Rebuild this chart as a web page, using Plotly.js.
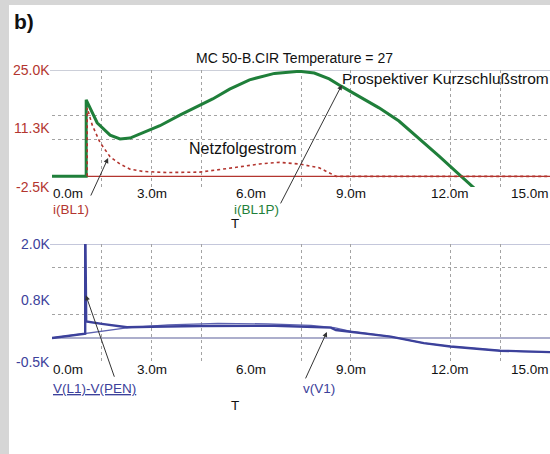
<!DOCTYPE html>
<html>
<head>
<meta charset="utf-8">
<script src="https://cdn.plot.ly/plotly-3.0.1.min.js"></script>
<style>
html,body{margin:0;padding:0;background:#d6d6d6;width:550px;height:454px;overflow:hidden;}
#chart{position:absolute;left:9px;top:5px;width:541px;height:449px;background:#fff;}
</style>
</head>
<body>
<div id="chart"></div>
<script>
// ---- data (time in ms, currents/voltages in kA/kV) ----
var tGreen = [0, 1.03, 1.03, 1.36, 1.75, 2.05, 2.35, 2.74, 3.25, 3.85, 4.45, 4.84, 5.35, 5.95, 6.70, 7.45, 7.90, 8.35, 8.71, 9.25, 9.85, 10.45, 11.05, 11.65, 12.31, 12.75];
var iBL1P  = [0, 0, 18.0, 12.6, 9.7, 8.8, 9.0, 10.2, 11.9, 14.4, 16.8, 18.2, 20.5, 22.7, 24.2, 24.7, 24.3, 22.9, 21.2, 18.7, 16.1, 13.0, 9.0, 4.8, 0.1, -3.0];

var tRed  = [1.06, 1.06, 1.21, 1.45, 1.75, 2.05, 2.35, 2.74, 3.46, 4.45, 5.44, 6.25, 6.85, 7.45, 8.05, 8.56, 15];
var iBL1  = [0, 16.1, 12.1, 7.9, 4.6, 2.9, 1.7, 1.15, 0.9, 1.0, 2.0, 2.9, 3.3, 2.9, 2.0, 0, 0];

var tV1 = [0, 1.0, 2.3, 3.5, 5.0, 6.5, 7.8, 8.5, 9.0, 10.2, 11.2, 12.0, 13.5, 14.2, 15];
var vV1 = [0, 0.09, 0.22, 0.28, 0.31, 0.30, 0.27, 0.22, 0.14, 0.03, -0.11, -0.18, -0.27, -0.29, -0.30];

var tVL = [0, 1.0, 1.0, 1.03, 1.5, 2.26, 3.0, 4.45, 6.7, 7.9, 8.4, 8.55, 9.0, 10.2, 11.2, 12.0, 13.5, 14.2, 15];
var vVL = [0, 0.09, 2.6, 0.35, 0.30, 0.23, 0.24, 0.255, 0.26, 0.24, 0.22, 0.17, 0.135, 0.03, -0.11, -0.18, -0.27, -0.29, -0.30];

var xTickVals = [0, 3, 6, 9, 12, 15];
var xTickText = ['0.0m', '3.0m', '6.0m', '9.0m', '12.0m', '15.0m'];
var y1TickVals = [25, 11.3, -2.5];
var y1TickText = ['25.0K', '11.3K', '-2.5K'];
var y2TickVals = [2.0, 0.8, -0.5];
var y2TickText = ['2.0K', '0.8K', '-0.5K'];
var xGrid = [1.5, 3, 4.5, 7.5, 9, 12, 13.5];
var y1Grid = [14.2, 8.55];
var y2Grid = [1.5, 0.5];

// ---- styling ----
var FONT = 'Liberation Sans, Arial, sans-serif';
var RED = '#b3352f', GREEN = '#1f7f3a', BLUE = '#3c419b', GRID = '#a3a3a3';
var W = 541, H = 449, PL = 52, PW = 498;
var FS = 13.5;
function px(x){ return (x - PL) / PW; }
function py(y){ return (454 - y) / H; }

var traces = [
  {x: tGreen, y: iBL1P, xaxis: 'x', yaxis: 'y', mode: 'lines', line: {color: GREEN, width: 3}, name: 'i(BL1P)'},
  {x: tRed, y: iBL1, xaxis: 'x', yaxis: 'y', mode: 'lines', line: {color: RED, width: 1.6, dash: 'dot'}, name: 'i(BL1)'},
  {x: tV1, y: vV1, xaxis: 'x2', yaxis: 'y2', mode: 'lines', line: {color: '#5d62b0', width: 1.3}, name: 'v(V1)'},
  {x: tVL, y: vVL, xaxis: 'x2', yaxis: 'y2', mode: 'lines', line: {color: BLUE, width: 2.4}, name: 'V(L1)-V(PEN)'}
];

function xax(anchor){
  return {range: [0, 15], domain: [0, 1], anchor: anchor, tickvals: xGrid, showticklabels: false,
    ticks: '', showgrid: true, gridcolor: GRID, griddash: 'dot', gridwidth: 1, zeroline: false, showline: false, fixedrange: true};
}
function yax(range, dom, grid){
  return {range: range, domain: dom, tickvals: grid, showticklabels: false, ticks: '', showgrid: true,
    gridcolor: GRID, griddash: 'dot', gridwidth: 1, zeroline: false, showline: false, fixedrange: true};
}

var ann = [];
function txt(t, x, y, opts){
  var a = {text: t, x: px(x), y: py(y), xref: 'paper', yref: 'paper', showarrow: false, borderpad: 0,
    xanchor: 'left', yanchor: 'middle', font: {family: FONT, size: FS, color: '#111'}};
  for (var k in opts) a[k] = opts[k];
  ann.push(a);
}
// x tick labels (built from arrays)
['x', 'x2'].forEach(function(xr, k){
  var yPix = k === 0 ? 194 : 369;
  xTickVals.forEach(function(v, i){
    ann.push({text: xTickText[i], x: v, xref: xr, y: py(yPix), yref: 'paper', showarrow: false, borderpad: 0,
      xanchor: i === 0 ? 'left' : (i === xTickVals.length - 1 ? 'right' : 'center'), yanchor: 'middle',
      font: {family: FONT, size: FS, color: '#111'}});
  });
});
y1TickVals.forEach(function(v, i){
  ann.push({text: y1TickText[i], x: 0, xref: 'paper', xanchor: 'right', xshift: -1, y: v, yref: 'y',
    yanchor: 'middle', showarrow: false, borderpad: 0, font: {family: FONT, size: 14, color: RED}});
});
y2TickVals.forEach(function(v, i){
  ann.push({text: y2TickText[i], x: 0, xref: 'paper', xanchor: 'right', xshift: -1, y: v, yref: 'y2',
    yanchor: 'middle', showarrow: false, borderpad: 0, font: {family: FONT, size: 14, color: BLUE}});
});

txt('<b>b)</b>', 13, 22, {font: {family: FONT, size: 21, color: '#111'}});
txt('MC 50-B.CIR Temperature = 27', 195, 58, {font: {family: FONT, size: 14, color: '#111'}});
txt('Prospektiver Kurzschlußstrom', 341, 78, {font: {family: FONT, size: 15.5, color: '#111'}});
txt('Netzfolgestrom', 188, 148, {font: {family: FONT, size: 16, color: '#111'}});
txt('i(BL1)', 52, 209, {font: {family: FONT, size: FS, color: RED}});
txt('i(BL1P)', 233, 209, {font: {family: FONT, size: FS, color: GREEN}});
txt('T', 235, 223, {xanchor: 'center'});
txt('<u>V(L1)-V(PEN)</u>', 52, 388, {font: {family: FONT, size: 13.5, color: BLUE}});
txt('v(V1)', 302, 388, {font: {family: FONT, size: 13.5, color: BLUE}});
txt('T', 235, 405, {xanchor: 'center'});

// arrows
function arrow(x, y, xr, yr, dx, dy){
  ann.push({text: '', x: x, y: y, xref: xr, yref: yr, ax: dx, ay: dy, showarrow: true,
    arrowhead: 2, arrowsize: 1, arrowwidth: 1, arrowcolor: '#333'});
}
arrow(1.69, 4.3, 'x', 'y', -18, 39);
arrow(8.73, 21.5, 'x', 'y', -62, 120);
arrow(1.02, 0.91, 'x2', 'y2', 29, 83);
arrow(8.28, 0.13, 'x2', 'y2', -22, 48);

var shapes = [
  {type: 'line', xref: 'paper', yref: 'y', x0: -0.004, x1: 1, y0: 25, y1: 25, line: {color: '#9aa0b4', width: 1}},
  {type: 'line', xref: 'paper', yref: 'y', x0: 0, x1: 1, y0: 0, y1: 0, line: {color: RED, width: 1.3}},
  {type: 'line', xref: 'paper', yref: 'y2', x0: -0.004, x1: 1, y0: 2, y1: 2, line: {color: '#8a90b8', width: 1}},
  {type: 'line', xref: 'paper', yref: 'y2', x0: 0, x1: 1, y0: 0, y1: 0, line: {color: '#5a5f99', width: 1.2}}
];

var layout = {
  width: W, height: H,
  margin: {l: 43, r: 0, t: 0, b: 0, autoexpand: false},
  paper_bgcolor: '#ffffff', plot_bgcolor: '#ffffff',
  showlegend: false,
  xaxis: xax('y'),
  xaxis2: xax('y2'),
  yaxis: yax([-2.5, 25], [0.5947, 0.8552], y1Grid),
  yaxis2: yax([-0.5, 2.0], [0.2060, 0.4677], y2Grid),
  annotations: ann,
  shapes: shapes,
  font: {family: FONT}
};
layout.shapes.forEach(function(s){ s.layer = 'below'; });

Plotly.newPlot('chart', traces, layout, {displayModeBar: false, staticPlot: true});
</script>
</body>
</html>
